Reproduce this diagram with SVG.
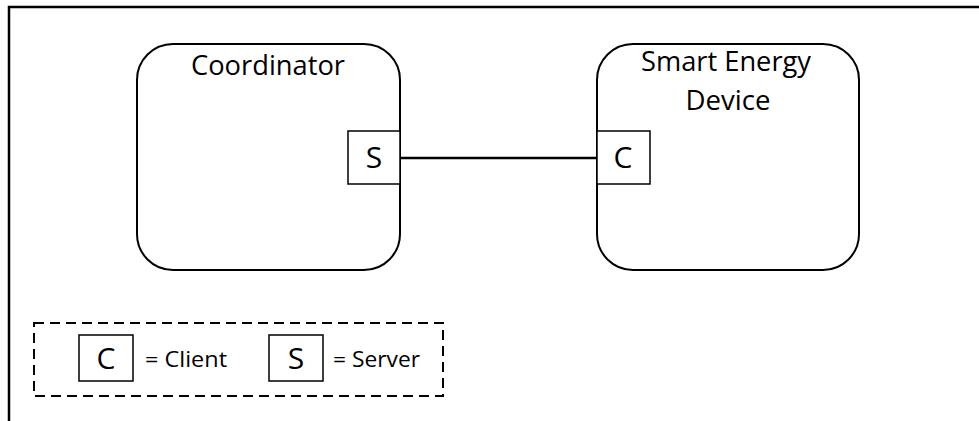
<svg xmlns="http://www.w3.org/2000/svg" width="979" height="421" viewBox="0 0 979 421">
<style>
.frame{fill:none;stroke:#000;stroke-width:2.5}
.node{fill:#fff;stroke:#000;stroke-width:2}
.port{fill:#fff;stroke:#000;stroke-width:1.5}
.conn{fill:none;stroke:#000;stroke-width:2.5}
.legend{fill:none;stroke:#000;stroke-width:2;stroke-dasharray:10 6}
text{font-family:"Open Sans","Liberation Sans",sans-serif;fill:#000}
.title{font-size:27px;text-anchor:middle}
.letter{font-size:30px;text-anchor:middle}
.ltext{font-size:22px}
</style>
<rect width="979" height="421" fill="#fff"/>
<path class="frame" d="M9 421 V7 H979"/>
<g id="connectors">
<line class="conn" x1="400" y1="158" x2="597" y2="158"/>
</g>
<g id="coordinator">
<rect class="node" x="137" y="44" width="263" height="226" rx="36" ry="36"/>
<text class="title" x="268" y="75" textLength="154" lengthAdjust="spacingAndGlyphs">Coordinator</text>
</g>
<g id="coordinator-server">
<rect class="port" x="348" y="131" width="52" height="53"/>
<text class="letter" x="374" y="168">S</text>
</g>
<g id="smart-energy-device">
<rect class="node" x="597" y="44" width="262" height="226" rx="36" ry="36"/>
<text class="title" x="726" y="71" textLength="170" lengthAdjust="spacingAndGlyphs">Smart Energy</text>
<text class="title" x="728" y="110" textLength="85" lengthAdjust="spacingAndGlyphs">Device</text>
</g>
<g id="sed-client">
<rect class="port" x="597" y="131" width="53" height="53"/>
<text class="letter" x="623" y="168">C</text>
</g>
<g id="legend">
<rect class="legend" x="34" y="323" width="409" height="73"/>
<rect class="port" x="79" y="335" width="54" height="46"/>
<text class="letter" x="106" y="369">C</text>
<text class="ltext" x="145" y="367" textLength="82" lengthAdjust="spacingAndGlyphs">= Client</text>
<rect class="port" x="269" y="335" width="54" height="46"/>
<text class="letter" x="296" y="369">S</text>
<text class="ltext" x="333" y="367" textLength="87" lengthAdjust="spacingAndGlyphs">= Server</text>
</g>
</svg>
